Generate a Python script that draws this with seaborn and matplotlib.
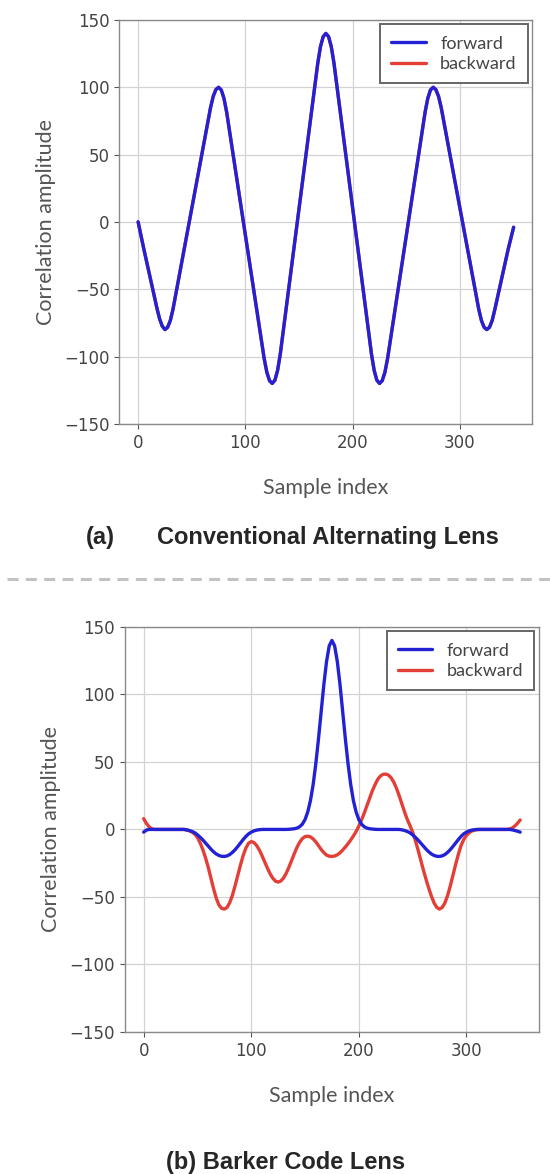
import matplotlib
matplotlib.use("Agg")
import matplotlib.pyplot as plt
from matplotlib.lines import Line2D
import pandas as pd
import seaborn as sns

# sample positions (every 2.5 samples, 0..350)
sample_index = [i * 2.5 for i in range(141)]

# (a) conventional alternating lens, one row = 25 samples
forward_a = [0, -9.5, -19, -28, -37, -46, -55, -64, -72, -77.5,
             -80, -78.3, -73.3, -64.9, -54.3, -43.6, -32.9, -22.1, -11.4, -0.7,
             10, 20.7, 31.4, 42.1, 52.9, 63.6, 74.3, 84.9, 93.3, 98.3,
             100, 98, 91.8, 81.6, 68.6, 55.5, 42.4, 29.3, 16.2, 3.1,
             -10, -23.1, -36.2, -49.3, -62.4, -75.5, -88.6, -101.6, -111.8, -118,
             -120, -117.6, -110.3, -98.2, -82.9, -67.4, -51.9, -36.4, -20.9, -5.5,
             10, 25.5, 40.9, 56.4, 71.9, 87.4, 102.9, 118.2, 130.3, 137.6,
             140, 137.6, 130.3, 118.2, 102.9, 87.4, 71.9, 56.4, 40.9, 25.5,
             10, -5.5, -20.9, -36.4, -51.9, -67.4, -82.9, -98.2, -110.3, -117.6,
             -120, -118, -111.8, -101.6, -88.6, -75.5, -62.4, -49.3, -36.2, -23.1,
             -10, 3.1, 16.2, 29.3, 42.4, 55.5, 68.6, 81.6, 91.8, 98,
             100, 98.3, 93.3, 84.9, 74.3, 63.6, 52.9, 42.1, 31.4, 20.7,
             10, -0.7, -11.4, -22.1, -32.9, -43.6, -54.3, -64.9, -73.3, -78.3,
             -80, -78.3, -73.3, -65, -56, -47, -38, -29, -20, -12,
             -4]
backward_a = list(forward_a)  # identical curve, hidden under the forward one

# (b) barker code lens
forward_b = [-2, -0.5, 0, 0, 0, 0, 0, 0, 0, 0,
             0, 0, 0, 0, 0, 0, -0.3, -0.8, -1.5, -2.5,
             -4, -5.8, -7.8, -10, -12.3, -14.6, -16.6, -18.2, -19.3, -19.9,
             -20, -19.6, -18.6, -17, -15, -12.6, -10, -7.5, -5.2, -3.3,
             -2, -1.1, -0.5, -0.2, 0, 0, 0, 0, 0, 0,
             0, 0, 0, 0, 0.1, 0.3, 0.5, 1, 2, 3.9,
             7.3, 12.9, 21.2, 33, 48.5, 67, 87.4, 107.4, 124.4, 136,
             140, 136, 124.4, 107.4, 87.4, 67, 48.5, 33, 21.2, 12.9,
             7.3, 3.9, 2, 1, 0.5, 0.3, 0.1, 0, 0, 0,
             0, 0, 0, 0, 0, 0, -0.3, -0.8, -1.5, -2.5,
             -4, -5.8, -7.8, -10, -12.3, -14.6, -16.6, -18.2, -19.3, -19.9,
             -20, -19.6, -18.6, -17, -15, -12.6, -10, -7.5, -5.2, -3.3,
             -2, -1.1, -0.5, -0.2, 0, 0, 0, 0, 0, 0,
             0, 0, 0, 0, 0, 0, 0, -0.3, -0.8, -1.3,
             -2]
backward_b = [8, 4.5, 2, 0.5, 0, 0, 0, 0, 0, 0,
              0, 0, 0, 0, 0, 0, -0.5, -1, -2, -3.5,
              -6, -10, -15, -21, -28, -36, -44, -51, -56, -58.5,
              -59, -57.8, -54.2, -48.7, -41.7, -34, -26.3, -19.3, -13.8, -10.2,
              -9, -9.7, -11.9, -15.2, -19.4, -24, -28.6, -32.8, -36.1, -38.3,
              -39, -38.2, -36, -32.5, -28, -23, -18, -13.3, -9.5, -6.8,
              -5.3, -5, -5.5, -7, -9.2, -12, -14.8, -17.2, -19, -19.8,
              -20, -19.7, -18.8, -17.3, -15.3, -13, -10.5, -7.8, -4.8, -1.5,
              2.5, 7, 12, 17.5, 23, 28.5, 33, 37, 39.5, 40.8,
              41, 40.3, 38.3, 35, 30.5, 25, 19, 13, 7.5, 3,
              -2, -8, -15, -22.5, -30, -37, -43.5, -49.5, -54.5, -57.8,
              -59, -57.8, -54.5, -49, -42, -34, -26, -18.5, -12, -7.5,
              -4.5, -2.5, -1.2, -0.5, -0.2, 0, 0, 0, 0, 0,
              0, 0, 0, 0, 0, 0, 0.3, 1, 2.5, 4.5,
              7]

xticks = [0, 100, 200, 300]
yticks = [-150, -100, -50, 0, 50, 100, 150]

panels = [
    ("(a)", "Conventional Alternating Lens", forward_a, backward_a),
    ("(b)", "Barker Code Lens", forward_b, backward_b),
]

sns.set_theme(style="whitegrid")
plt.rcParams["font.family"] = ["DejaVu Sans"]

BLUE = "#2222d4"
RED = "#e43f36"
LABEL_FONT = "Lato"

fig = plt.figure(figsize=(5.5, 11.74), dpi=100)
rects = [[0.217, 0.639, 0.751, 0.344],
         [0.227, 0.121, 0.753, 0.345]]

for rect, (tag, name, fwd, bwd) in zip(rects, panels):
    ax = fig.add_axes(rect)
    df = pd.DataFrame({"x": sample_index, "forward": fwd, "backward": bwd})
    sns.lineplot(data=df, x="x", y="backward", ax=ax, color=RED, lw=2.4,
                 label="backward")
    sns.lineplot(data=df, x="x", y="forward", ax=ax, color=BLUE, lw=2.4,
                 label="forward")
    for ln in ax.lines:
        ln.set_solid_joinstyle("round")
        ln.set_solid_capstyle("round")

    ax.set_ylim(-150, 150)
    ax.set_xticks(xticks)
    ax.set_yticks(yticks)
    ax.grid(True, color="#d2d2d2", lw=0.9)
    for sp in ax.spines.values():
        sp.set_color("#8a8a8a")
        sp.set_linewidth(1.0)
    ax.tick_params(axis="both", labelsize=12, labelcolor="#444444",
                   colors="#555555", length=3.5, width=0.8, bottom=True, left=True)
    ax.set_xlabel("Sample index", fontsize=15.5, color="#555555",
                  family=LABEL_FONT, labelpad=19)
    ax.set_ylabel("Correlation amplitude", fontsize=15.5, color="#555555",
                  family=LABEL_FONT, labelpad=6)

    h, l = ax.get_legend_handles_labels()
    leg = ax.legend(h[::-1], l[::-1], loc="upper right", fancybox=False,
                    framealpha=1, edgecolor="#666666", borderaxespad=0.25,
                    prop={"family": LABEL_FONT, "size": 13},
                    handlelength=1.9, labelspacing=0.25, borderpad=0.62,
                    labelcolor="#444444")
    leg.get_frame().set_linewidth(1.4)

# panel captions
fig.text(86 / 550, 1 - 537 / 1174, "(a)", fontsize=17, fontweight="bold",
         family="Liberation Sans", ha="left", va="center")
fig.text(328 / 550, 1 - 537 / 1174, "Conventional Alternating Lens", fontsize=17,
         fontweight="bold", family="Liberation Sans", ha="center", va="center")
fig.text(286 / 550, 1 - 1162 / 1174, "(b) Barker Code Lens", fontsize=17,
         fontweight="bold", family="Liberation Sans", ha="center", va="center")

# dashed separator between the two panels
fig.add_artist(Line2D([7 / 550, 1.0], [1 - 579 / 1174, 1 - 579 / 1174],
                      transform=fig.transFigure, color="#c2c2c2", lw=2.2,
                      dashes=(3.6, 2.4)))

fig.savefig("out.png", dpi=100)
